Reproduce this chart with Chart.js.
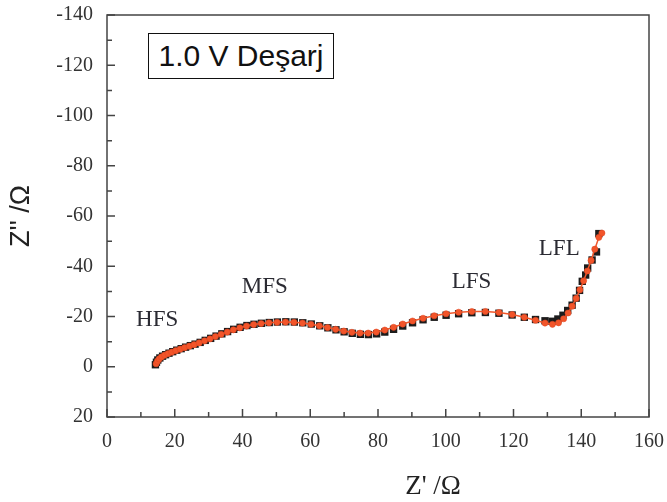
<!DOCTYPE html>
<html>
<head>
<meta charset="utf-8">
<script src="https://cdn.jsdelivr.net/npm/chart.js@4"></script>
<style>
  body { margin: 0; background: #fff; }
  #wrap { position: relative; width: 667px; height: 502px; }
  #tag {
    position: absolute; left: 148px; top: 33px; width: 184px; height: 44px;
    border: 1.5px solid #111; font: 30px "Liberation Sans", Arial, sans-serif;
    color: #111; text-align: center; line-height: 44px; background: #fff;
  }
</style>
</head>
<body>
<div id="wrap">
  <canvas id="nyquist" width="667" height="502"></canvas>
  <div id="tag">1.0 V Deşarj</div>
</div>
<script>
// measured points (black squares)
const measX = [14.3, 14.6, 15.0, 15.6, 16.4, 17.3, 18.3, 19.4, 20.6, 21.9, 23.2, 24.6, 26.0, 27.5, 29.0, 30.6, 32.2, 33.9, 35.6, 37.4,
  39.3, 41.3, 43.4, 45.6, 47.9, 50.3, 52.8, 55.3, 57.8, 60.3, 62.8, 65.2, 67.6, 70.0, 72.4, 74.8, 77.2, 79.6, 82.0, 84.6,
  87.3, 90.2, 93.3, 96.6, 100.1, 103.8, 107.7, 111.7, 115.7, 119.6, 123.2, 126.5, 129.3, 131.4, 133.1, 134.6, 136.0, 137.3, 138.5, 139.5,
  140.3, 141.3, 141.9, 143.2, 144.5, 145.2];
const measY = [-0.8, -1.8, -2.7, -3.5, -4.2, -4.8, -5.4, -6.0, -6.6, -7.2, -7.8, -8.4, -9.0, -9.7, -10.5, -11.3, -12.2, -13.1, -14.0, -14.9,
  -15.7, -16.4, -16.9, -17.3, -17.6, -17.8, -17.9, -17.8, -17.5, -17.0, -16.3, -15.5, -14.7, -13.9, -13.3, -12.9, -12.8, -13.1, -13.8, -14.9,
  -16.2, -17.5, -18.7, -19.7, -20.5, -21.1, -21.5, -21.6, -21.3, -20.6, -19.7, -18.8, -18.3, -18.1, -19.0, -20.5, -22.4, -24.5, -27.3, -30.4,
  -34.0, -36.5, -39.3, -42.5, -45.7, -53.0];

// fitted curve (red circles)
const fitX = [14.5, 14.9, 15.4, 16.1, 17.0, 18.0, 19.1, 20.3, 21.6, 22.9, 24.3, 25.7, 27.2, 28.8, 30.4, 32.0, 33.7, 35.5, 37.3, 39.2,
  41.2, 43.3, 45.5, 47.8, 50.2, 52.7, 55.2, 57.7, 60.2, 62.7, 65.1, 67.5, 69.9, 72.3, 74.7, 77.1, 79.5, 82.0, 84.6, 87.3,
  90.2, 93.3, 96.6, 100.1, 103.8, 107.7, 111.7, 115.7, 119.6, 123.2, 126.5, 129.3, 131.5, 133.3, 134.8, 136.1, 137.3, 138.5, 139.6, 140.7,
  141.8, 142.9, 144.0, 145.2, 146.1];
const fitY = [-1.2, -2.2, -3.1, -3.9, -4.6, -5.2, -5.8, -6.4, -7.0, -7.6, -8.2, -8.8, -9.5, -10.3, -11.1, -12.0, -12.9, -13.8, -14.7, -15.5,
  -16.2, -16.8, -17.2, -17.5, -17.7, -17.8, -17.7, -17.4, -16.9, -16.3, -15.6, -14.9, -14.2, -13.7, -13.4, -13.4, -13.8, -14.6, -15.7, -17.0,
  -18.2, -19.3, -20.3, -21.1, -21.7, -22.0, -22.0, -21.6, -20.8, -19.7, -18.5, -17.4, -16.9, -17.5, -19.1, -21.4, -24.1, -27.2, -30.6, -34.2,
  -38.1, -42.3, -46.8, -51.5, -53.2];

// region labels placed in data coordinates
const regionNames = ['HFS', 'MFS', 'LFS', 'LFL'];
const regionX = [14.8, 46.6, 107.6, 133.5];
const regionY = [-18.5, -31.7, -33.7, -46.8];

const xTicks = [0, 20, 40, 60, 80, 100, 120, 140, 160];
const yTicks = [-140, -120, -100, -80, -60, -40, -20, 0, 20];

const toPts = (xs, ys) => xs.map((v, i) => ({ x: v, y: ys[i] }));

const serif = '"Liberation Serif", "Times New Roman", serif';

// frame, inward ticks, region labels and x title
const decor = {
  id: 'decor',
  afterDraw(chart) {
    const { ctx, chartArea: a, scales: { x, y } } = chart;
    ctx.save();
    ctx.strokeStyle = '#444';
    ctx.lineWidth = 1.5;
    ctx.strokeRect(a.left, a.top, a.right - a.left, a.bottom - a.top);
    ctx.beginPath();
    for (let v = xTicks[0]; v <= xTicks[xTicks.length - 1]; v += 10) {
      const px = x.getPixelForValue(v);
      const len = v % 20 === 0 ? 8 : 5;
      ctx.moveTo(px, a.bottom);
      ctx.lineTo(px, a.bottom - len);
    }
    for (let v = yTicks[0]; v <= yTicks[yTicks.length - 1]; v += 10) {
      const py = y.getPixelForValue(v);
      const len = v % 20 === 0 ? 8 : 5;
      ctx.moveTo(a.left, py);
      ctx.lineTo(a.left + len, py);
    }
    ctx.stroke();

    ctx.fillStyle = '#2b2b33';
    ctx.font = '23px ' + serif;
    ctx.textAlign = 'center';
    ctx.textBaseline = 'middle';
    regionNames.forEach((n, i) => {
      ctx.fillText(n, x.getPixelForValue(regionX[i]), y.getPixelForValue(regionY[i]));
    });

    ctx.fillStyle = '#222';
    ctx.font = '27px ' + serif;
    ctx.fillText("Z' /\u03A9", 433, 487);
    ctx.restore();
  }
};

new Chart(document.getElementById('nyquist'), {
  type: 'scatter',
  data: {
    datasets: [
      {
        label: 'Fit',
        data: toPts(fitX, fitY),
        showLine: true,
        borderColor: '#f0582c',
        borderWidth: 1.5,
        pointStyle: 'circle',
        pointRadius: 3.1,
        pointBackgroundColor: '#f2552a',
        pointBorderColor: '#e04420',
        pointBorderWidth: 0.5
      },
      {
        label: 'Measured',
        data: toPts(measX, measY),
        showLine: false,
        pointStyle: 'rect',
        pointRadius: 5.2,
        pointBackgroundColor: '#1c1c1c',
        pointBorderColor: '#1c1c1c',
        pointBorderWidth: 0
      }
    ]
  },
  options: {
    responsive: false,
    animation: false,
    layout: { padding: { top: 15, right: 18, left: 0, bottom: 0 } },
    plugins: { legend: { display: false }, tooltip: { enabled: false } },
    scales: {
      x: {
        type: 'linear',
        min: 0, max: 160,
        afterFit: s => { s.height = 85; s.paddingLeft = 0; s.paddingRight = 0; },
        afterBuildTicks: s => { s.ticks = xTicks.map(v => ({ value: v })); },
        grid: { display: false, drawTicks: false },
        border: { display: false },
        ticks: { color: '#333', padding: 13, font: { family: serif, size: 20 } }
      },
      y: {
        type: 'linear',
        reverse: true,
        min: -140, max: 20,
        afterFit: s => { s.width = 107; s.paddingTop = 0; s.paddingBottom = 0; },
        afterBuildTicks: s => { s.ticks = yTicks.map(v => ({ value: v })); },
        grid: { display: false, drawTicks: false },
        border: { display: false },
        ticks: { color: '#333', padding: 14, font: { family: serif, size: 20 } },
        title: {
          display: true,
          text: "Z'' /\u03A9",
          color: '#222',
          padding: { top: 5, bottom: 0 },
          font: { family: '"Liberation Sans", Arial, sans-serif', size: 27 }
        }
      }
    }
  },
  plugins: [decor]
});
</script>
</body>
</html>
